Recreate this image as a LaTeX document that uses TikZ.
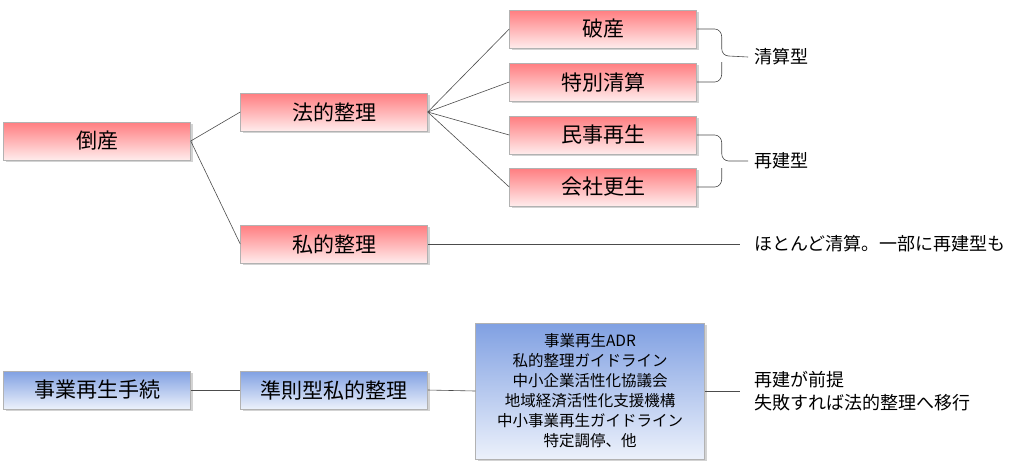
\documentclass[tikz,border=0pt]{standalone}
\usepackage{fontspec}
\setmainfont{Noto Sans CJK JP}
\usetikzlibrary{shadows}
\definecolor{rtop}{RGB}{255,125,128}
\definecolor{rbot}{RGB}{255,236,236}
\definecolor{btop}{RGB}{128,160,226}
\definecolor{bbot}{RGB}{236,241,251}
\begin{document}
\begin{tikzpicture}[x=1pt,y=-1pt,
  box/.style={draw=gray!60,line width=0.5pt,minimum width=187pt,minimum height=38pt,inner sep=0pt,font=\fontsize{21}{24}\selectfont,drop shadow={shadow xshift=2pt,shadow yshift=-2pt,opacity=0.35}},
  red/.style={box,top color=rtop,bottom color=rbot},
  blue/.style={box,top color=btop,bottom color=bbot},
  ln/.style={draw=black!70,line width=0.6pt},
  lab/.style={anchor=west,font=\fontsize{18}{22}\selectfont,inner sep=0pt}]
\useasboundingbox (0,0) rectangle (1024,475);
\node[red] (tosan) at (97,141) {倒産};
\node[red] (hoteki) at (334,112) {法的整理};
\node[red] (shiteki) at (334,244) {私的整理};
\node[red] (hasan) at (603,29) {破産};
\node[red] (tokubetsu) at (603,82) {特別清算};
\node[red] (minji) at (603,135) {民事再生};
\node[red] (kaisha) at (603,187) {会社更生};
\node[lab] (seisan) at (754,57) {清算型};
\node[lab] (saiken) at (754,161) {再建型};
\node[lab] (hotondo) at (754,244) {ほとんど清算。一部に再建型も};
\node[blue] (jigyo) at (97,390) {事業再生手続};
\node[blue] (junsoku) at (334,390) {準則型私的整理};
\node[blue,minimum width=229pt,minimum height=136pt,font=\fontsize{15.5}{20}\selectfont,align=center] (list) at (590,391)
 {事業再生ADR\\私的整理ガイドライン\\中小企業活性化協議会\\地域経済活性化支援機構\\中小事業再生ガイドライン\\特定調停、他};
\node[lab,align=left,font=\fontsize{18}{23}\selectfont] (zentei) at (754,391) {再建が前提\\失敗すれば法的整理へ移行};
\coordinate (e1) at (740,244);
\coordinate (e2) at (740,391);
\draw[ln] (tosan.east) -- (hoteki.west);
\draw[ln] (tosan.east) -- (shiteki.west);
\foreach \n in {hasan,tokubetsu,minji,kaisha} \draw[ln] (hoteki.east) -- (\n.west);
\draw[ln] (shiteki.east) -- (e1);
\draw[ln] (jigyo.east) -- (junsoku.west);
\draw[ln] (junsoku.east) -- (list.west);
\draw[ln] (list.east) -- (e2);
\draw[ln] (hasan.east) -- ++(18,0) to[out=0,in=90] ++(7,8) -- ++(0,12) to[out=-90,in=180] ++(7,7) -- ([xshift=-6pt]seisan.west);
\draw[ln] (tokubetsu.east) -- ++(18,0) to[out=0,in=-90] ++(7,-8) -- ++(0,-12);
\draw[ln] (minji.east) -- ++(18,0) to[out=0,in=90] ++(7,8) -- ++(0,11) to[out=-90,in=180] ++(7,7) -- ([xshift=-6pt]saiken.west);
\draw[ln] (kaisha.east) -- ++(18,0) to[out=0,in=-90] ++(7,-8) -- ++(0,-11);
\end{tikzpicture}
\end{document}
